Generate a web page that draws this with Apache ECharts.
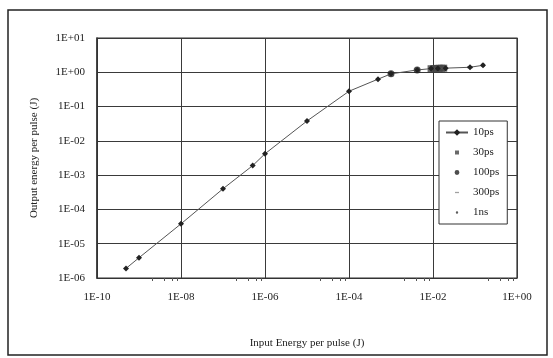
<!DOCTYPE html>
<html><head><meta charset="utf-8">
<script src="https://cdn.jsdelivr.net/npm/echarts@6/dist/echarts.min.js"></script>
<style>html,body{margin:0;padding:0;background:#fff}#c{width:553px;height:358px}</style>
</head><body><div id="c"></div>
<script>
// Input energy (J) and output energy (J)
const inputEnergy10ps = [4.9e-10, 1e-9, 1e-8, 1e-7, 5.1e-7, 1e-6, 1e-5, 1e-4, 4.9e-4, 1e-3, 4.2e-3, 9e-3, 1.3e-2, 2e-2, 7.6e-2, 1.55e-1];
const outputEnergy10ps = [1.9e-6, 3.9e-6, 3.8e-5, 4.0e-4, 1.9e-3, 4.2e-3, 3.8e-2, 0.28, 0.63, 0.9, 1.17, 1.28, 1.3, 1.32, 1.4, 1.6];
const inputEnergy30ps = [9e-3, 1.05e-2, 1.2e-2, 1.4e-2, 1.6e-2, 1.8e-2];
const outputEnergy30ps = [1.27, 1.29, 1.3, 1.31, 1.31, 1.32];
const inputEnergy100ps = [1e-3, 4.2e-3];
const outputEnergy100ps = [0.9, 1.17];
const inputEnergy300ps = [7.6e-2];
const outputEnergy300ps = [1.4];
const inputEnergy1ns = [1.55e-1];
const outputEnergy1ns = [1.6];
const seriesNames = ['10ps', '30ps', '100ps', '300ps', '1ns'];
const xTickLabels = ['1E-10', '1E-08', '1E-06', '1E-04', '1E-02', '1E+00'];
const yTickLabels = ['1E-06', '1E-05', '1E-04', '1E-03', '1E-02', '1E-01', '1E+00', '1E+01'];

const pairs = (xs, ys) => xs.map((x, i) => [x, ys[i]]);
const lbl = (arr, minExp, step) => v => {
  const e = Math.round(Math.log10(v));
  const idx = (e - minExp) / step;
  return Number.isInteger(idx) && arr[idx] !== undefined ? arr[idx] : '';
};
const font = 'Liberation Serif';
const chart = echarts.init(document.getElementById('c'), null, {renderer: 'canvas'});
chart.setOption({
  backgroundColor: '#fff',
  animation: false,
  textStyle: {fontFamily: font},
  grid: {left: 97, right: 36, top: 38, bottom: 80, show: true, borderColor: '#333', borderWidth: 1.2, containLabel: false},
  graphic: [{type: 'rect', shape: {x: 8, y: 10, width: 539, height: 345}, style: {fill: 'none', stroke: '#222', lineWidth: 1.5}, silent: true}],
  xAxis: {
    type: 'log', logBase: 10, min: 1e-10, max: 1, interval: 2,
    name: 'Input Energy per pulse (J)', nameLocation: 'middle', nameGap: 60,
    nameTextStyle: {fontFamily: font, fontSize: 11, color: '#222'},
    axisLine: {show: true, lineStyle: {color: '#333'}},
    axisTick: {show: false},
    minorTick: {show: true, splitNumber: 5, length: 3, lineStyle: {color: '#555'}},
    axisLabel: {formatter: lbl(xTickLabels, -10, 2), fontFamily: font, fontSize: 11, color: '#222', margin: 14},
    splitLine: {show: true, lineStyle: {color: '#3a3a3a', width: 1}}
  },
  yAxis: {
    type: 'log', logBase: 10, min: 1e-6, max: 10, interval: 1,
    name: 'Output energy per pulse (J)', nameLocation: 'middle', nameGap: 57,
    nameTextStyle: {fontFamily: font, fontSize: 11, color: '#222'},
    axisLine: {show: true, lineStyle: {color: '#333', width: 1.5}},
    axisTick: {show: true, inside: true, length: 3, lineStyle: {color: '#333'}},
    axisLabel: {formatter: lbl(yTickLabels, -6, 1), fontFamily: font, fontSize: 11, color: '#222', margin: 12},
    splitLine: {show: true, lineStyle: {color: '#3a3a3a', width: 1}}
  },
  legend: {
    orient: 'vertical', left: 439, top: 121, width: 71,
    padding: [6, 8, 6, 6], itemGap: 9, itemWidth: 22, itemHeight: 8,
    backgroundColor: '#fff', borderColor: '#333', borderWidth: 1,
    textStyle: {fontFamily: font, fontSize: 11, color: '#222'},
    data: [
      {name: '10ps'},
      {name: '30ps', icon: 'path://M0,0M10,10M2.5,2.5h5v5h-5z'},
      {name: '100ps', icon: 'path://M0,0M10,10M5,2a3,3 0 1 1 0,6a3,3 0 1 1 0,-6z'},
      {name: '300ps', icon: 'path://M0,0M10,10M2.5,4.2h5v1.6h-5z'},
      {name: '1ns', icon: 'path://M0,0M10,10M5,3.5a1.5,1.5 0 1 1 0,3a1.5,1.5 0 1 1 0,-3z'}
    ]
  },
  series: [
    {name: '10ps', type: 'line', data: pairs(inputEnergy10ps, outputEnergy10ps), symbol: 'diamond', symbolSize: 6,
     lineStyle: {color: '#555', width: 1}, itemStyle: {color: '#222'}},
    {name: '30ps', type: 'scatter', data: pairs(inputEnergy30ps, outputEnergy30ps), symbol: 'rect', symbolSize: 7, symbolKeepAspect: true, itemStyle: {color: '#444'}},
    {name: '100ps', type: 'scatter', data: pairs(inputEnergy100ps, outputEnergy100ps), symbol: 'circle', symbolSize: 7, symbolKeepAspect: true, itemStyle: {color: '#222'}},
    {name: '300ps', type: 'scatter', data: pairs(inputEnergy300ps, outputEnergy300ps), symbol: 'rect', symbolSize: [6, 2], symbolKeepAspect: true, itemStyle: {color: '#888'}},
    {name: '1ns', type: 'scatter', data: pairs(inputEnergy1ns, outputEnergy1ns), symbol: 'circle', symbolSize: 4, symbolKeepAspect: true, itemStyle: {color: '#333'}}
  ]
});
</script></body></html>
